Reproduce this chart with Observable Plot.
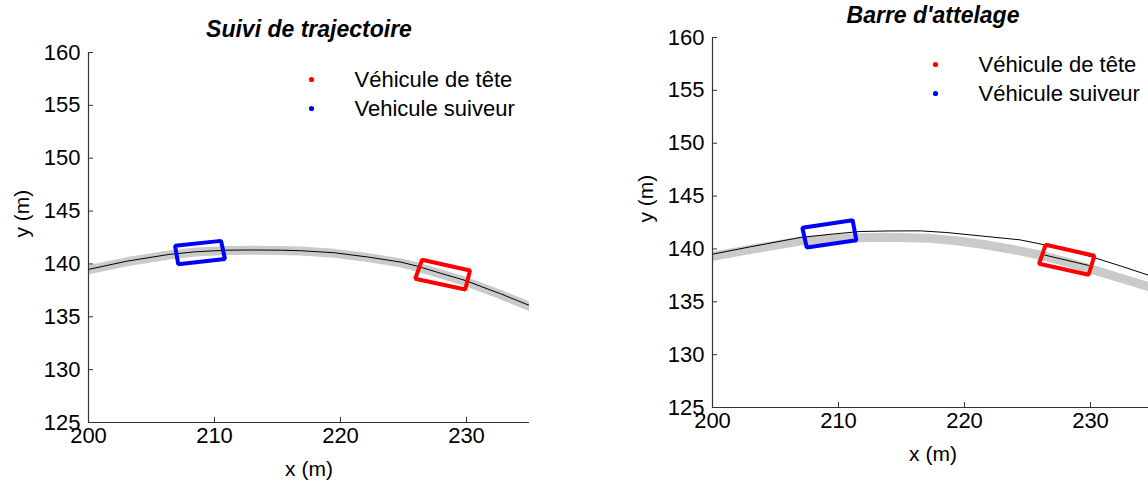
<!DOCTYPE html>
<html><head><meta charset="utf-8">
<script src="https://cdn.jsdelivr.net/npm/d3@7"></script>
<script src="https://cdn.jsdelivr.net/npm/@observablehq/plot@0.6"></script>
<style>
body{margin:0;background:#fff;}
#wrap{position:relative;width:1148px;height:481px;overflow:hidden;background:#fff;}
#left,#right{position:absolute;top:0;height:481px;}
#left{left:0;width:574px;}
#right{left:574px;width:600px;}
#wrap svg{max-width:none !important;display:block;}
</style></head><body>
<div id="wrap"><div id="left"></div><div id="right"></div></div>
<script>
// ---- axes ----
const xTicks = [200, 210, 220, 230];
const yTicks = [125, 130, 135, 140, 145, 150, 155, 160];
const xDomain = [200, 235];
const yDomain = [125, 160];

// ---- left panel: "Suivi de trajectoire" ----
const leftTrackX = [200, 203, 206.4, 208.5, 211, 213, 215.25, 216.83, 219.5, 222.2, 224.8, 226.06, 228, 229.92, 231.3, 232.7, 234, 235];
const leftTrackY = [139.48, 140.25, 140.9, 141.15, 141.3, 141.32, 141.3, 141.25, 141.06, 140.65, 140.17, 139.8, 139.1, 138.43, 137.8, 137.18, 136.55, 136.07];
const leftRefY   = [139.45, 140.2, 140.85, 141.12, 141.28, 141.3, 141.27, 141.22, 141.0, 140.6, 140.1, 139.72, 139.03, 138.35, 137.72, 137.1, 136.47, 135.98];
const leftFollowerX = [206.87, 210.52, 210.83, 207.12];
const leftFollowerY = [141.71, 142.18, 140.47, 139.98];
const leftLeaderX = [226.47, 230.28, 229.9, 225.93];
const leftLeaderY = [140.39, 139.38, 137.58, 138.6];

// ---- right panel: "Barre d'attelage" ----
const rightTrackX = [200, 203, 206.96, 209.5, 211.7, 214, 216.5, 218.6, 221.8, 224.4, 226.3, 228.5, 230.5, 232.35, 234.6, 235];
const rightTrackY = [139.5, 140.2, 141.08, 141.4, 141.65, 141.7, 141.71, 141.55, 141.17, 140.86, 140.4, 139.8, 139.1, 138.4, 137.52, 137.35];
const rightRefX = [200, 203, 206.96, 210, 213.8, 217.3, 219.5, 221.8, 223.8, 225.7, 228, 230.5, 232.5, 234.58, 235];
const rightRefY = [139.3, 139.95, 140.74, 141.0, 141.1, 141.0, 140.75, 140.37, 139.95, 139.5, 138.8, 137.93, 137.2, 136.44, 136.28];
const rightFollowerX = [207.13, 211.12, 211.42, 207.48];
const rightFollowerY = [142.0, 142.72, 140.82, 140.14];
const rightLeaderX = [226.44, 230.31, 229.85, 225.92];
const rightLeaderY = [140.39, 139.35, 137.56, 138.6];
const rightLeaderAxisX = [226.37, 229.84];
const rightLeaderAxisY = [139.42, 138.44];

const FONT = '"Liberation Sans", Arial, Helvetica, sans-serif';
const zip = (xs, ys) => xs.map((x, i) => ({x, y: ys[i]}));

function panel(cfg) {
  const H = 481;
  const fw = cfg.width - cfg.ml - cfg.mr;
  const fh = H - cfg.mt - cfg.mb;
  const marks = [
    Plot.line(cfg.ref, {x: "x", y: "y", stroke: "#cacaca", strokeWidth: 9, clip: true}),
    Plot.line(cfg.track, {x: "x", y: "y", stroke: "#000", strokeWidth: 1, clip: true}),
  ];
  if (cfg.extra) marks.push(Plot.line(cfg.extra, {x: "x", y: "y", stroke: "#000", strokeWidth: 1}));
  marks.push(
    Plot.line(cfg.follower, {x: "x", y: "y", curve: "linear-closed", stroke: "#0000ff", strokeWidth: 4, strokeLinejoin: "miter"}),
    Plot.line(cfg.leader, {x: "x", y: "y", curve: "linear-closed", stroke: "#ff0000", strokeWidth: 4, strokeLinejoin: "miter"}),
    // axis lines
    Plot.ruleX([xDomain[0]], {stroke: "#333", strokeWidth: 1.2}),
    Plot.ruleY([yDomain[0]], {stroke: "#333", strokeWidth: 1.2}),
    // inward ticks
    Plot.tickX(xTicks, {x: d => d, insetTop: fh - 5, stroke: "#333"}),
    Plot.tickY(yTicks, {y: d => d, insetRight: fw - 5, stroke: "#333"}),
    Plot.axisX({ticks: xTicks, tickSize: 0, tickPadding: 5, fontSize: 22, label: null, tickFormat: d => String(d)}),
    Plot.axisY({ticks: yTicks, tickSize: 0, tickPadding: 8, fontSize: 22, label: null, tickFormat: d => String(d)}),
    // labels
    Plot.text([cfg.title], {text: d => d, frameAnchor: "top", lineAnchor: "middle", dy: cfg.titleDy, fontSize: 23, fontWeight: "bold", fontStyle: "italic", fill: "#000"}),
    Plot.text(["x (m)"], {text: d => d, frameAnchor: "bottom", lineAnchor: "middle", dy: 47, fontSize: 21, fill: "#000"}),
    Plot.text(["y (m)"], {text: d => d, frameAnchor: "left", lineAnchor: "middle", dx: -66, rotate: -90, fontSize: 21, fill: "#000"}),
    // legend
    Plot.dot([0], {frameAnchor: "top-left", dx: 223, dy: 27, r: 2.6, fill: "#ff0000", stroke: "none"}),
    Plot.dot([0], {frameAnchor: "top-left", dx: 223, dy: 56, r: 2.6, fill: "#0000ff", stroke: "none"}),
    Plot.text([cfg.leg1], {text: d => d, frameAnchor: "top-left", lineAnchor: "middle", dx: 266, dy: 27, textAnchor: "start", fontSize: 22, fill: "#000"}),
    Plot.text([cfg.leg2], {text: d => d, frameAnchor: "top-left", lineAnchor: "middle", dx: 266, dy: 56, textAnchor: "start", fontSize: 22, fill: "#000"})
  );
  return Plot.plot({
    width: cfg.width, height: H,
    marginLeft: cfg.ml, marginRight: cfg.mr, marginTop: cfg.mt, marginBottom: cfg.mb,
    x: {domain: xDomain},
    y: {domain: yDomain},
    style: {fontFamily: FONT, background: "#fff", overflow: "visible", color: "#000"},
    marks
  });
}

document.getElementById("left").appendChild(panel({
  width: 574, ml: 88, mr: 45, mt: 52, mb: 59,
  title: "Suivi de trajectoire", titleDy: -23,
  ref: zip(leftTrackX, leftRefY), track: zip(leftTrackX, leftTrackY),
  follower: zip(leftFollowerX, leftFollowerY), leader: zip(leftLeaderX, leftLeaderY),
  leg1: "Véhicule de tête", leg2: "Vehicule suiveur"
}));

document.getElementById("right").appendChild(panel({
  width: 600, ml: 138, mr: 21, mt: 37, mb: 74,
  title: "Barre d'attelage", titleDy: -22,
  ref: zip(rightRefX, rightRefY), track: zip(rightTrackX, rightTrackY),
  extra: zip(rightLeaderAxisX, rightLeaderAxisY),
  follower: zip(rightFollowerX, rightFollowerY), leader: zip(rightLeaderX, rightLeaderY),
  leg1: "Véhicule de tête", leg2: "Véhicule suiveur"
}));
</script>
</body></html>
